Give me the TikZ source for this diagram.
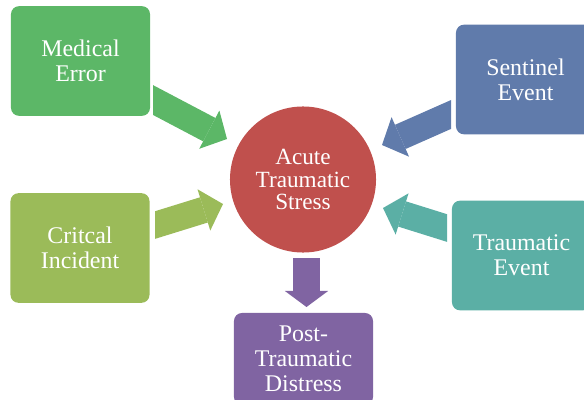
\documentclass[tikz,border=0pt]{standalone}
\usepackage{fontspec}
\setmainfont{Liberation Serif}
\usetikzlibrary{arrows.meta}

\definecolor{errgreen}{RGB}{92,183,103}
\definecolor{incgreen}{RGB}{155,187,89}
\definecolor{sentblue}{RGB}{96,123,171}
\definecolor{evteal}{RGB}{91,175,165}
\definecolor{stressred}{RGB}{192,80,77}
\definecolor{distpurple}{RGB}{128,100,162}

\tikzset{
  box/.style={rectangle, rounded corners=0.2cm, minimum width=3.475cm, minimum height=2.74cm,
    text=white, align=center, font=\fontsize{17}{17.8}\selectfont},
  hub/.style={circle, minimum size=3.65cm, inner sep=0pt, text=white, align=center,
    font=\fontsize{16.5}{16}\selectfont},
  flow/.style={line width=0.66cm, -{Triangle[width=1.08cm,length=#1,line width=0pt]}},
  flow/.default=0.5cm
}

\begin{document}
\begin{tikzpicture}[x=0.025cm,y=-0.025cm]
\useasboundingbox (0,0) rectangle (584,400);

% causes and outcome
\node[box, fill=errgreen] (med) at (80.5,61) {Medical\\Error};
\node[box, fill=incgreen] (inc) at (80,248) {Critcal\\Incident};
\node[box, fill=sentblue] (sent) at (525.5,79.5) {Sentinel\\Event};
\node[box, fill=evteal] (trev) at (521.5,255.5) {Traumatic\\Event};
\node[box, fill=distpurple, minimum height=2.3cm] (ptd) at (303.5,359) {Post-\\Traumatic\\Distress};

% centre
\node[hub, fill=stressred] (ats) at (303,179.5) {Acute\\Traumatic\\Stress};

% arrow ends
\coordinate (med-out) at (141,93.7);
\coordinate (ats-in1) at (227,139);
\coordinate (inc-out) at (145.5,228);
\coordinate (ats-in2) at (223,204);
\coordinate (sent-out) at (460,110.5);
\coordinate (ats-in3) at (382,145);
\coordinate (trev-out) at (456.5,231);
\coordinate (ats-in4) at (383,208);
\coordinate (ats-out) at (306.5,258);
\coordinate (ptd-in) at (306.5,307);

\begin{scope}
\clip (153,0) rectangle (451,170) (155,170) rectangle (447,320);
\draw[flow, errgreen] (med-out) -- (ats-in1);
\draw[flow, incgreen] (inc-out) -- (ats-in2);
\draw[flow, sentblue] (sent-out) -- (ats-in3);
\draw[flow, evteal] (trev-out) -- (ats-in4);
\draw[flow=0.4cm, distpurple] (ats-out) -- (ptd-in);
\end{scope}

\end{tikzpicture}
\end{document}
